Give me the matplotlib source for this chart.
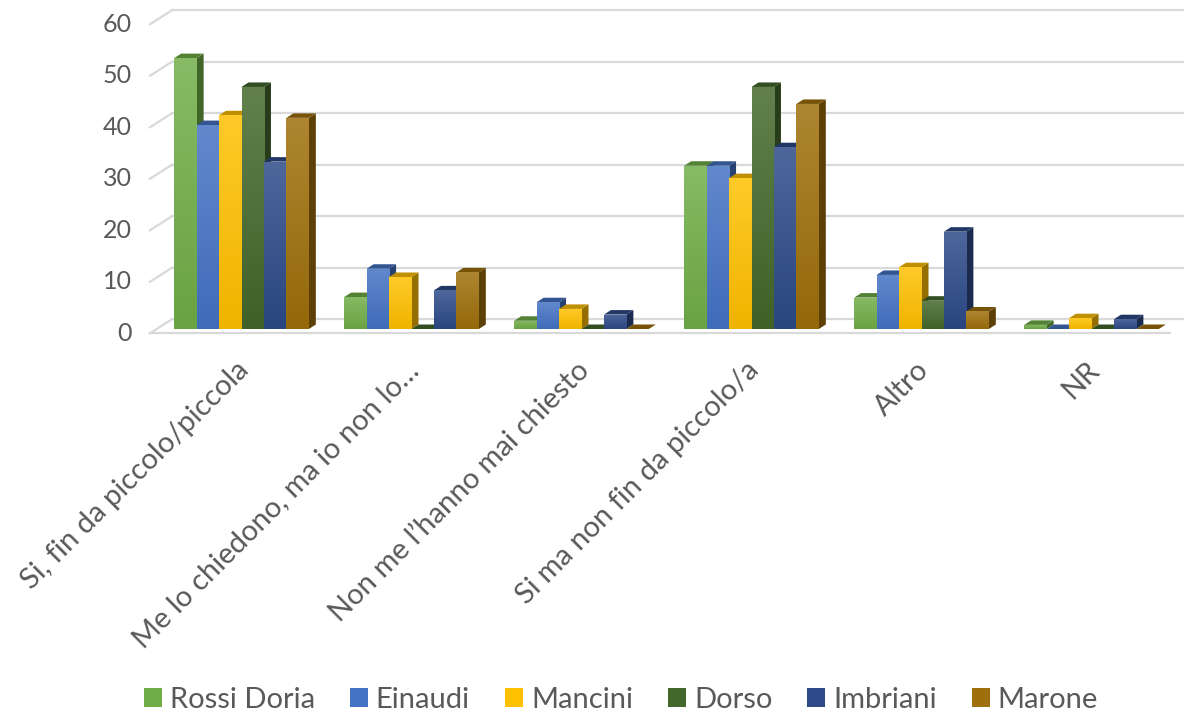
import numpy as np
import matplotlib.pyplot as plt
import matplotlib.colors as mcolors
from matplotlib.patches import Polygon, Patch

plt.rcParams['font.family'] = ['Lato', 'DejaVu Sans']

# survey answers (percent of pupils per school)
categories = ["Si, fin da piccolo/piccola", "Me lo chiedono, ma io non lo\u2026",
              "Non me l\u2019hanno mai chiesto", "Si ma non fin da piccolo/a",
              "Altro", "NR"]
schools = ["Rossi Doria", "Einaudi", "Mancini", "Dorso", "Imbriani", "Marone"]

rossi_doria = [52.6, 6.2, 1.6, 31.7, 6.1, 0.8]
einaudi = [39.6, 11.7, 5.2, 31.7, 10.5, 0.0]
mancini = [41.5, 10.1, 3.9, 29.3, 12.0, 2.1]
dorso = [47.0, 0.0, 0.0, 47.0, 5.5, 0.0]
imbriani = [32.5, 7.5, 2.8, 35.3, 18.9, 1.9]
marone = [41.0, 11.0, 0.0, 43.7, 3.4, 0.0]

series = [rossi_doria, einaudi, mancini, dorso, imbriani, marone]
colors = ['#70AD47', '#4472C4', '#FFC000', '#43682B', '#2C4A88', '#9E6F0A']
yticks = [0, 10, 20, 30, 40, 50, 60]

W, H = 1184, 713
PX_X = 170.0   # pixels per category
PX_Y = 5.15    # pixels per percent
fig = plt.figure(figsize=(W / 100, H / 100), dpi=100)

xlim = (-0.62, 5.55)
ylim = (-1.5, 62.8)
x0_px, y0_px = 241.5, 329.0
left_px = x0_px + xlim[0] * PX_X
right_px = x0_px + xlim[1] * PX_X
bot_px = y0_px - ylim[0] * PX_Y
top_px = y0_px - ylim[1] * PX_Y
ax = fig.add_axes([left_px / W, (H - bot_px) / H,
                   (right_px - left_px) / W, (bot_px - top_px) / H])

# fake 3d: depth of a column and of the whole floor, in data units
bdx, bdy = 7.0 / PX_X, 4.5 / PX_Y
fdx, fdy = -6.6 / PX_X, -4.3 / PX_Y   # front edge of floor
kdx, kdy = 15.4 / PX_X, 9.7 / PX_Y    # back wall
grid_c = '#D9D9D9'
text_c = '#595959'

# back wall gridlines and left wall diagonals
for v in yticks:
    ax.plot([-0.5 + kdx, 5.6 + kdx], [v + kdy, v + kdy], color=grid_c, lw=1.6, zorder=1, clip_on=False)
    ax.plot([-0.5 + fdx, -0.5 + kdx], [v + fdy, v + kdy], color=grid_c, lw=1.6, zorder=1, clip_on=False)
    ax.text(-0.5 + fdx - 0.105, v + fdy, str(v), ha='right', va='center',
            fontsize=18, color=text_c)
# front edge of the floor
ax.plot([-0.5 + fdx, 5.5 + fdx], [fdy, fdy], color=grid_c, lw=1.6, zorder=1)


def shade(c, f):
    r = np.array(mcolors.to_rgb(c))
    if f >= 0:
        return tuple(r + (1 - r) * f)
    return tuple(r * (1 + f))


n = len(series)
bw = 0.132
x = np.arange(len(categories))
for j, (vals, c) in enumerate(zip(series, colors)):
    xs = x - bw * n / 2 + bw * (j + 0.5)
    z = 3 + j
    bars = ax.bar(xs, vals, width=bw, color=c, zorder=z, linewidth=0)
    for rect, v in zip(bars, vals):
        xl = rect.get_x()
        xr = xl + bw
        side = Polygon([(xr, 0), (xr + bdx, bdy), (xr + bdx, v + bdy), (xr, v)],
                       closed=True, facecolor=shade(c, -0.42), lw=0, zorder=z)
        top = Polygon([(xl, v), (xl + bdx, v + bdy), (xr + bdx, v + bdy), (xr, v)],
                      closed=True, facecolor=shade(c, -0.25), lw=0, zorder=z)
        ax.add_patch(side)
        ax.add_patch(top)
        if v > 0:
            grad = np.linspace(0, 1, 64)[:, None, None]
            ctop = np.array(shade(c, 0.16))
            cbot = np.array(shade(c, -0.06))
            img = ctop * (1 - grad) + cbot * grad
            im = ax.imshow(img, extent=[xl, xr, 0, v], aspect='auto', zorder=z,
                           interpolation='bilinear')
            im.set_clip_path(rect)

# category labels
for i, cat in enumerate(categories):
    ax.text(i + 0.02, -7.2, cat, rotation=45, rotation_mode='anchor',
            ha='right', va='center', fontsize=21, color=text_c)

ax.set_xlim(*xlim)
ax.set_ylim(*ylim)
ax.axis('off')

handles = [Patch(facecolor=c) for c in colors]
fig.legend(handles, schools, loc='center', bbox_to_anchor=(0.5245, 1 - 700 / H),
           ncol=6, frameon=False, fontsize=21, handlelength=0.62, handleheight=0.6,
           handletextpad=0.27, columnspacing=1.2, labelcolor=text_c)

fig.savefig('out.png', dpi=100)
